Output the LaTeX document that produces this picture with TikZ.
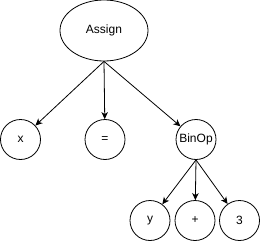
\documentclass[tikz,border=0pt]{standalone}
\usepackage{fontspec}
\setmainfont{Liberation Sans}
\usetikzlibrary{arrows.meta,shapes.geometric}

\begin{document}
\begin{tikzpicture}[x=1pt,y=1pt,font=\fontsize{12}{14}\selectfont,
  treenode/.style={draw, circle, line width=0.8pt, minimum size=40pt, inner sep=0pt},
  rootnode/.style={draw, ellipse, line width=0.8pt, minimum width=88pt, minimum height=61pt, inner sep=0pt},
  edge/.style={draw, line width=0.8pt, -{Stealth[length=7pt,width=6.5pt,inset=2pt]}}]
\useasboundingbox (0,0) rectangle (261,241);
% root
\node[rootnode] (assign) at (104,210.5) {Assign};
% first level
\node[treenode] (x) at (20.5,101.5) {x};
\node[treenode] (eq) at (105,101.5) {=};
\node[treenode] (binop) at (196,101.5) {BinOp};
% second level
\node[treenode] (y) at (150,20.5) {y};
\node[treenode] (plus) at (195,20.5) {+};
\node[treenode] (three) at (239.5,20.5) {3};
% edges
\draw[edge] (assign.south) -- (x);
\draw[edge] (assign.south) -- (eq);
\draw[edge] (assign.south) -- (binop);
\draw[edge] (binop.south) -- (y);
\draw[edge] (binop.south) -- (plus);
\draw[edge] (binop.south) -- (three);
\end{tikzpicture}
\end{document}
